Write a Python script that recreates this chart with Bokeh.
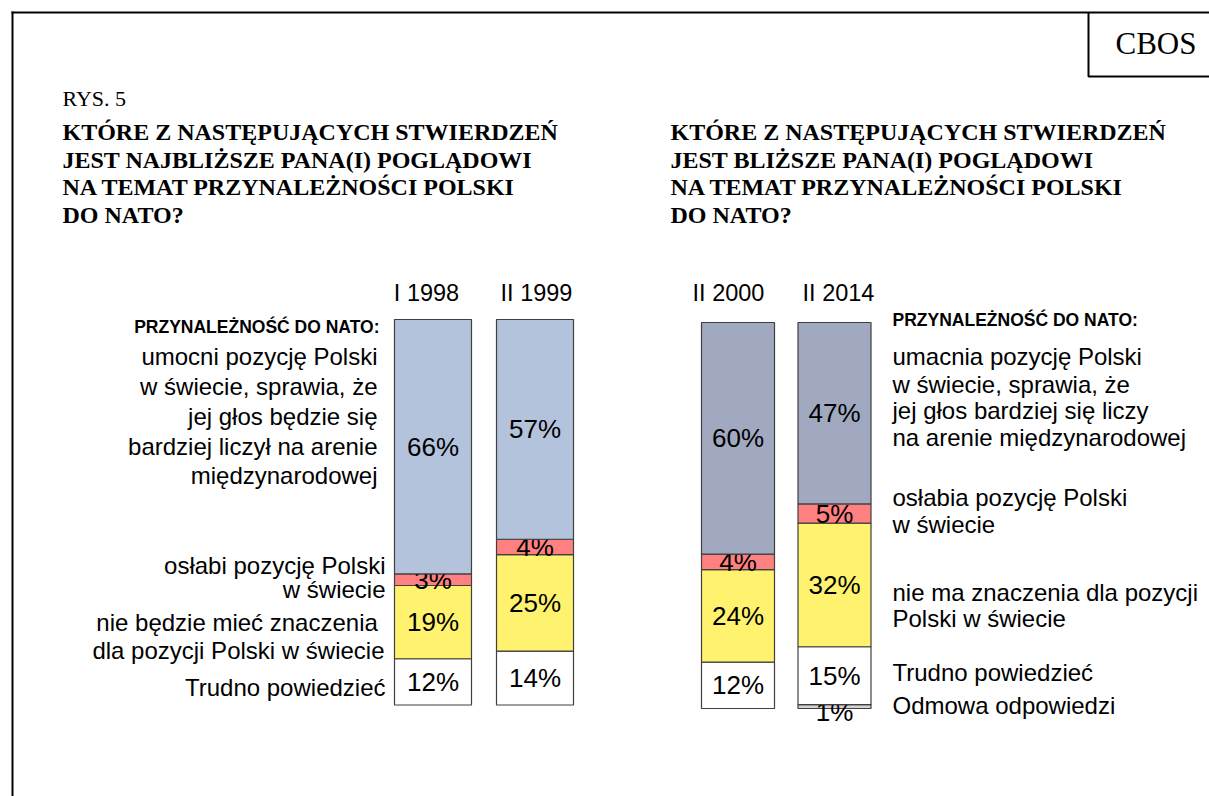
from bokeh.plotting import figure
from bokeh.models import Range1d, ColumnDataSource
from bokeh.core.properties import value
from bokeh.embed import file_html
from bokeh.resources import INLINE

# ---------------- data ----------------
left_periods = ["I 1998", "II 1999"]
left_umocni = [66, 57]      # umocni pozycję Polski ...
left_oslabi = [3, 4]        # osłabi pozycję Polski
left_nie = [19, 25]         # nie będzie mieć znaczenia
left_trudno = [12, 14]      # trudno powiedzieć

right_periods = ["II 2000", "II 2014"]
right_umacnia = [60, 47]
right_oslabia = [4, 5]
right_nie = [24, 32]
right_trudno = [12, 15]
right_odmowa = [0, 1]

title_left = ["KTÓRE Z NASTĘPUJĄCYCH STWIERDZEŃ",
              "JEST NAJBLIŻSZE PANA(I) POGLĄDOWI",
              "NA TEMAT PRZYNALEŻNOŚCI POLSKI",
              "DO NATO?"]
title_right = ["KTÓRE Z NASTĘPUJĄCYCH STWIERDZEŃ",
               "JEST BLIŻSZE PANA(I) POGLĄDOWI",
               "NA TEMAT PRZYNALEŻNOŚCI POLSKI",
               "DO NATO?"]
header_text = "PRZYNALEŻNOŚĆ DO NATO:"
left_cat_labels = [
    ["umocni pozycję Polski", "w świecie, sprawia, że", "jej głos będzie się",
     "bardziej liczył na arenie", "międzynarodowej"],
    ["osłabi pozycję Polski", "w świecie"],
    ["nie będzie mieć  znaczenia", "dla pozycji Polski w świecie"],
    ["Trudno powiedzieć"],
]
right_cat_labels = [
    ["umacnia pozycję Polski", "w świecie, sprawia, że", "jej głos bardziej się liczy",
     "na arenie międzynarodowej"],
    ["osłabia pozycję Polski", "w świecie"],
    ["nie ma znaczenia dla pozycji", "Polski w świecie"],
    ["Trudno powiedzieć"],
    ["Odmowa odpowiedzi"],
]

# ---------------- layout / style ----------------
W, H = 1209, 796
X0, Y0 = 0, 0
SANS = "Liberation Sans"
SERIF = "Liberation Serif"
OUTLINE = "#404040"

C_BLUE_L = "#b4c3dc"
C_BLUE_R = "#a1a9c0"
C_RED = "#ff8080"
C_YELLOW = "#fff26e"
C_WHITE = "#ffffff"
C_GRAY = "#d4d4d4"

p = figure(width=W, height=H, x_range=Range1d(X0, X0 + W), y_range=Range1d(Y0 + H, Y0),
           output_backend="svg", toolbar_location=None, min_border=0)
p.axis.visible = False
p.grid.visible = False
p.outline_line_color = None
p.background_fill_color = "white"
p.border_fill_color = "white"


def pct_range(bottom_px, top_px):
    k = (bottom_px - top_px) / 100.0
    return Range1d(-(Y0 + H - bottom_px) / k, 100 + (top_px - Y0) / k)


p.extra_y_ranges = {"left": pct_range(704.5, 319), "right": pct_range(708, 322)}


def draw_panel(centers, width, series, colors, rname):
    n = len(centers)
    bottoms = [0.0] * n
    for vals, color in zip(series, colors):
        xs, bs, ts, lx, ly, lt, lo = [], [], [], [], [], [], []
        for i in range(n):
            v = vals[i]
            if v > 0:
                xs.append(centers[i]); bs.append(bottoms[i]); ts.append(bottoms[i] + v)
                lx.append(centers[i]); ly.append(bottoms[i] + v / 2.0); lt.append(f"{v}%")
                lo.append(5 if v < 2 else 0)
        bottoms = [b + v for b, v in zip(bottoms, vals)]
        src = ColumnDataSource(dict(x=xs, bottom=bs, top=ts))
        p.vbar(x="x", width=width, bottom="bottom", top="top", source=src,
               fill_color=color, line_color=OUTLINE, line_width=1.2, y_range_name=rname)
        lsrc = ColumnDataSource(dict(x=lx, y=ly, t=lt, o=lo))
        p.text(x="x", y="y", text="t", y_offset="o", source=lsrc,
               text_align="center", text_baseline="middle",
               text_font=value(SANS), text_font_size="26px", text_color="black",
               y_range_name=rname)


draw_panel([432.5, 534.5], 77,
           [left_trudno, left_nie, left_oslabi, left_umocni],
           [C_WHITE, C_YELLOW, C_RED, C_BLUE_L], "left")
draw_panel([737.5, 834], 73,
           [right_odmowa, right_trudno, right_nie, right_oslabia, right_umacnia],
           [C_GRAY, C_WHITE, C_YELLOW, C_RED, C_BLUE_R], "right")

# period labels
p.text(x=[426, 536, 728, 838], y=[292] * 4, text=left_periods + right_periods,
       text_align="center", text_baseline="alphabetic",
       text_font=value(SANS), text_font_size="23.5px", text_color="black")

# frame + CBOS box
p.line(x=[12, 12], y=[Y0 + H, 11], line_color="black", line_width=2)
p.line(x=[11, X0 + W], y=[12, 12], line_color="black", line_width=2)
p.line(x=[1088, 1088, X0 + W], y=[12, 76, 76], line_color="black", line_width=2)
p.text(x=[1155.5], y=[43], text=["CBOS"], text_align="center", text_baseline="alphabetic",
       text_font=value(SERIF), text_font_size="31px", text_color="black")

# RYS. 5 and titles
p.text(x=[62], y=[98], text=["RYS. 5"], text_baseline="alphabetic",
       text_font=value(SERIF), text_font_size="22px", text_color="black")
tb = [131.5, 159.5, 186.5, 214]
p.text(x=[62] * 4, y=tb, text=title_left, text_baseline="alphabetic",
       text_font=value(SERIF), text_font_size="24px", text_font_style="bold", text_color="black")
p.text(x=[670] * 4, y=tb, text=title_right, text_baseline="alphabetic",
       text_font=value(SERIF), text_font_size="24px", text_font_style="bold", text_color="black")

# headers
p.text(x=[379, 892], y=[326, 319], text=[header_text, header_text], text_baseline="alphabetic",
       text_align=["right", "left"], text_font=value(SANS), text_font_size="17.5px",
       text_font_style="bold", text_color="black")

# left category labels (right aligned)
left_baselines = [[356, 386, 416, 446, 475], [565, 589], [622, 650], [687]]
left_right_edge = [377, 385, 384, 385]
for lines, bls, xe in zip(left_cat_labels, left_baselines, left_right_edge):
    p.text(x=[xe] * len(lines), y=bls, text=lines, text_align="right", text_baseline="alphabetic",
           text_font=value(SANS), text_font_size="24px", text_color="black")

right_baselines = [[356, 383.5, 410, 437], [497, 524], [592, 618], [672], [705]]
for lines, bls in zip(right_cat_labels, right_baselines):
    p.text(x=[892] * len(lines), y=bls, text=lines, text_align="left", text_baseline="alphabetic",
           text_font=value(SANS), text_font_size="24px", text_color="black")

open("out.html", "w").write(file_html(p, INLINE))
